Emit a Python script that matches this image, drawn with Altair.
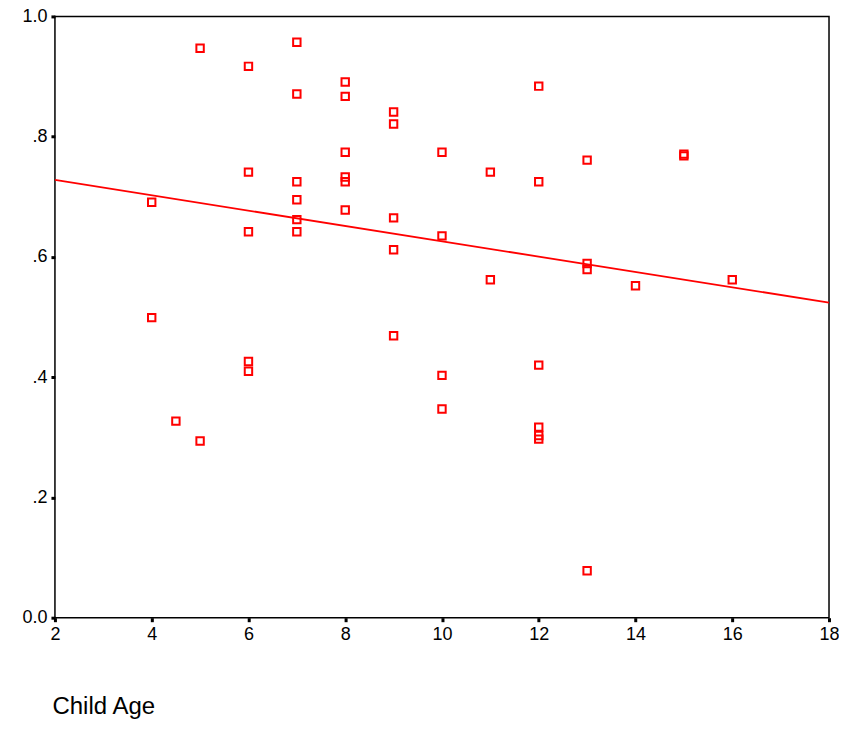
import pandas as pd
import altair as alt

# scatter points: child age vs score
age = [4, 4, 4.5, 5, 5, 6, 6, 6, 6, 6, 7, 7, 7, 7, 7, 7,
       8, 8, 8, 8, 8, 8, 9, 9, 9, 9, 9, 10, 10, 10, 10, 11, 11,
       12, 12, 12, 12, 12, 12, 13, 13, 13, 13, 14, 15, 15, 16]
score = [0.691, 0.499, 0.327, 0.947, 0.294, 0.917, 0.741, 0.642, 0.426, 0.410,
         0.957, 0.871, 0.725, 0.695, 0.662, 0.642,
         0.891, 0.867, 0.774, 0.733, 0.725, 0.678,
         0.841, 0.821, 0.665, 0.612, 0.469,
         0.774, 0.635, 0.403, 0.347, 0.741, 0.562,
         0.884, 0.725, 0.420, 0.317, 0.303, 0.297,
         0.761, 0.589, 0.579, 0.078, 0.552, 0.771, 0.768, 0.562]

# fit line end points
line_x = [2, 18]
line_y = [0.728, 0.524]

pts = pd.DataFrame({"age": age, "score": score})
fit = pd.DataFrame({"age": line_x, "score": line_y})

x_enc = alt.X("age:Q", scale=alt.Scale(domain=[2, 18], nice=False),
              axis=alt.Axis(values=list(range(2, 19, 2)), title="Child Age",
                            titleAnchor="start", titleAlign="left", titleX=-3, titleY=77,
                            titleBaseline="top",
                            titleFontSize=24, titleFontWeight="normal"))
y_enc = alt.Y("score:Q", scale=alt.Scale(domain=[0, 1], nice=False),
              axis=alt.Axis(values=[0, 0.2, 0.4, 0.6, 0.8, 1.0], title=None,
                            labelExpr="datum.value == 0 ? '0.0' : datum.value == 1 ? '1.0' : replace(format(datum.value, '.1f'), '0.', '.')"))

points = alt.Chart(pts).mark_point(shape="square", color="#ff0000", size=55, opacity=1,
                                   strokeWidth=2, filled=False).encode(x=x_enc, y=y_enc)
line = alt.Chart(fit).mark_line(color="#ff0000", strokeWidth=1.8).encode(x=x_enc, y=y_enc)

chart = (line + points).properties(
    width=775, height=602,
    background="white",
    autosize=alt.AutoSizeParams(type="none"),
    padding={"left": 47, "top": 8, "right": 10, "bottom": 110},
).configure_view(stroke="black", strokeWidth=1.5).configure_axis(
    grid=False, domain=False, tickColor="black", tickSize=4, tickWidth=3,
    labelFont="Liberation Sans", titleFont="Liberation Sans", labelFlush=False,
    labelFontSize=18, labelColor="black", titleColor="black", labelPadding=4,
)

chart.save("out.html", embed_options={"renderer": "svg", "actions": False})
